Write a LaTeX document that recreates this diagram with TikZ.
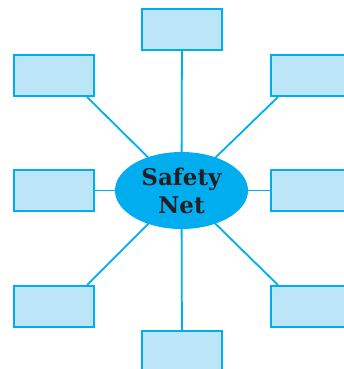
\documentclass[tikz,border=0pt]{standalone}
\usepackage{fontspec}
\newfontfamily\hubfont{DejaVu Serif}
\usetikzlibrary{shapes.geometric,backgrounds}
\definecolor{cyanline}{HTML}{00AEEF}
\definecolor{boxfill}{HTML}{BDE5F8}
\definecolor{txt}{HTML}{231F20}
\begin{document}
\begin{tikzpicture}[x=1pt,y=-1pt,
  blank/.style={draw=cyanline,fill=boxfill,line width=1.8pt,minimum width=80pt,minimum height=41pt,inner sep=0pt},
  conn/.style={draw=cyanline,line width=1.8pt},
  hub/.style={ellipse,fill=cyanline,minimum width=133pt,minimum height=77pt,inner sep=0pt,align=center,text=txt,font=\hubfont\fontsize{23}{28}\selectfont\bfseries}]
\useasboundingbox (0,0) rectangle (343,369);
\node[hub] (hubnode) at (181.5,190.5) {Safety\\Net};
\node[blank] (t) at (182,29.5) {};
\node[blank] (tl) at (54,75.5) {};
\node[blank] (tr) at (311,75.5) {};
\node[blank] (l) at (54,190.5) {};
\node[blank] (r) at (311,190.5) {};
\node[blank] (bl) at (54,306.5) {};
\node[blank] (br) at (311,306.5) {};
\node[blank] (b) at (182,351.5) {};
\begin{scope}[on background layer]
\draw[conn] (hubnode.center) -- (t);
\draw[conn] (hubnode.center) -- (b);
\draw[conn] (hubnode.center) -- (l);
\draw[conn] (hubnode.center) -- (r);
\draw[conn] (hubnode.center) -- (tl.-33);
\draw[conn] (hubnode.center) -- (tr.-147);
\draw[conn] (hubnode.center) -- (bl.33);
\draw[conn] (hubnode.center) -- (br.147);
\end{scope}
\end{tikzpicture}
\end{document}
